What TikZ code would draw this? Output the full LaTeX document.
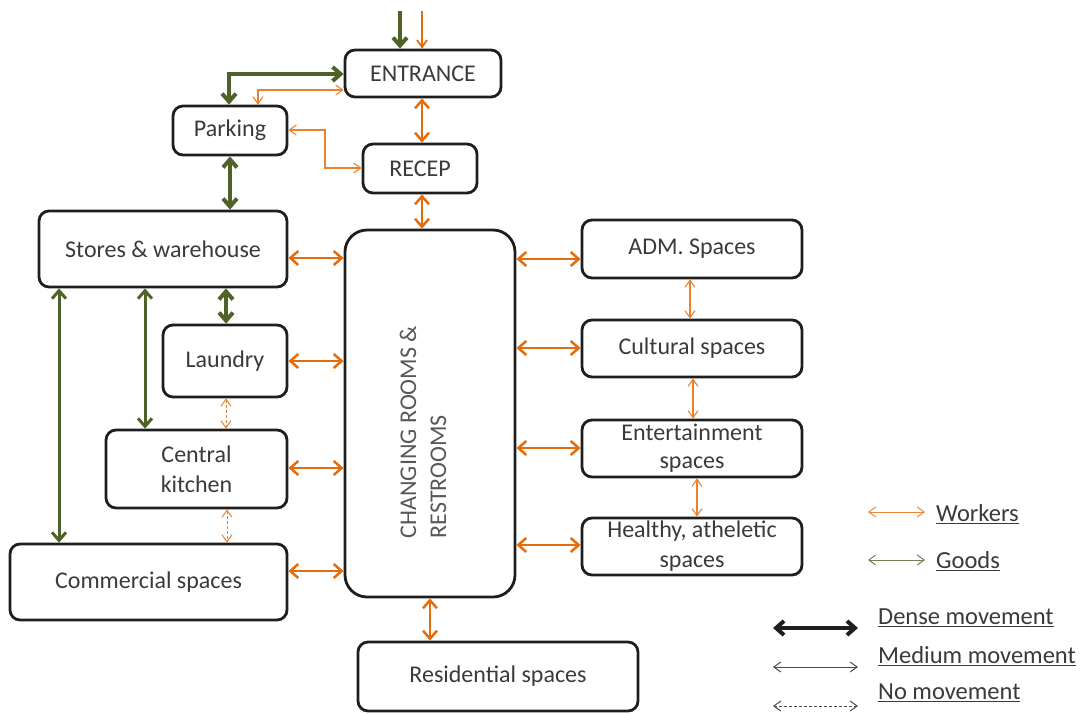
\documentclass[tikz,border=0pt]{standalone}
\usepackage{fontspec}
\setmainfont{Carlito}
\usetikzlibrary{arrows.meta}
\definecolor{org}{HTML}{E46C0A}
\definecolor{grn}{HTML}{4F6228}
\definecolor{txt}{HTML}{3A3A3A}
\definecolor{bord}{HTML}{1E1E1E}
\begin{document}
\begin{tikzpicture}[x=1pt,y=-1pt,
  box/.style={draw=bord,line width=2.8pt,rounded corners=10pt,inner sep=0pt,align=center,text=txt,font=\fontsize{24}{28}\selectfont},
  tipb/.tip={Straight Barb[length=8pt,width=14pt]},
  tipt/.tip={Straight Barb[length=7pt,width=10pt]},
  gthick/.style={draw=grn,line width=4pt,tipb-tipb},
  gmed/.style={draw=grn,line width=3pt,tipb-tipb},
  omed/.style={draw=org,line width=2.5pt,tipb-tipb},
  othin/.style={draw=org!85,line width=1.1pt,tipt-tipt},
  odash/.style={draw=org!85,line width=1pt,dashed,dash pattern=on 3pt off 2pt,tipt-tipt},
  legtxt/.style={text=txt,font=\fontsize{24.5}{26}\selectfont,anchor=west,inner sep=0pt}]
\useasboundingbox (0,0) rectangle (1085,713);
% boxes
\node[box,minimum width=156pt,minimum height=47pt] (ent) at (423,73.5) {ENTRANCE};
\node[box,minimum width=114pt,minimum height=49pt] (park) at (230,130.5) {Parking};
\node[box,minimum width=114pt,minimum height=49pt] (rec) at (420,168.5) {RECEP};
\node[box,minimum width=248pt,minimum height=76pt] (sto) at (163,249) {Stores \& warehouse};
\node[box,minimum width=124pt,minimum height=72pt] (lau) at (225,361) {Laundry};
\node[box,minimum width=181pt,minimum height=78pt,font=\fontsize{24}{30}\selectfont] (kit) at (196.5,469) {Central\\kitchen};
\node[box,minimum width=277pt,minimum height=76pt] (com) at (148.5,582) {Commercial spaces};
\node[box,minimum width=170pt,minimum height=367pt,rounded corners=22pt] (chg) at (430,413.5) {};
\node[rotate=90,align=left,text=txt!85,font=\fontsize{24}{30}\selectfont,inner sep=0pt] (chgt) at (423,432) {CHANGING ROOMS \&\\RESTROOMS};
\node[box,minimum width=220pt,minimum height=58pt] (adm) at (692,249) {ADM. Spaces};
\node[box,minimum width=220pt,minimum height=57pt] (cul) at (692,348.5) {Cultural spaces};
\node[box,minimum width=220pt,minimum height=57pt] (entm) at (692,448.5) {Entertainment\\spaces};
\node[box,minimum width=220pt,minimum height=57pt,font=\fontsize{24}{30}\selectfont] (hea) at (692,546.5) {Healthy, atheletic\\spaces};
\node[box,minimum width=280pt,minimum height=69pt] (res) at (498,676.5) {Residential spaces};
% top incoming
\coordinate (g0) at (400,11);
\coordinate (o0) at (422,11);
\draw[draw=grn,line width=4pt,-tipb] (g0) -- (g0 |- ent.north);
\draw[draw=org,line width=1.8pt,-tipt] (o0) -- (o0 |- ent.north);
% entrance - parking
\draw[gthick] (ent.west |- 0,74) -| (park.north -| 229,0);
\draw[othin] (ent.west |- 0,90) -| (park.north -| 258,0);
\draw[othin] (park.east |- 0,130) -| (325,168) -- (rec.west |- 0,168);
\draw[omed] (ent.south -| 422,0) -- (rec.north -| 422,0);
\draw[gthick] (park.south) -- (sto.north -| park.south);
\draw[omed] (rec.south -| 422,0) -- (chg.north -| 422,0);
% left side
\draw[omed] (sto.east |- 0,258) -- (chg.west |- 0,258);
\draw[gthick] (sto.south -| 226,0) -- (lau.north -| 226,0);
\draw[gmed] (sto.south -| 145,0) -- (kit.north -| 145,0);
\draw[gmed] (sto.south -| 59,0) -- (com.north -| 59,0);
\draw[odash] (lau.south -| 226,0) -- (kit.north -| 226,0);
\draw[odash] (kit.south -| 227,0) -- (com.north -| 227,0);
\draw[omed] (lau.east |- 0,361) -- (chg.west |- 0,361);
\draw[omed] (kit.east |- 0,468) -- (chg.west |- 0,468);
\draw[omed] (com.east |- 0,571) -- (chg.west |- 0,571);
% right side
\draw[omed] (chg.east |- 0,259) -- (adm.west |- 0,259);
\draw[omed] (chg.east |- 0,348) -- (cul.west |- 0,348);
\draw[omed] (chg.east |- 0,448) -- (entm.west |- 0,448);
\draw[omed] (chg.east |- 0,545) -- (hea.west |- 0,545);
\draw[othin] (adm.south -| 690,0) -- (cul.north -| 690,0);
\draw[othin] (cul.south -| 693,0) -- (entm.north -| 693,0);
\draw[othin] (entm.south -| 697,0) -- (hea.north -| 697,0);
\draw[omed] (chg.south -| 430,0) -- (res.north -| 430,0);
% legend
\coordinate (lw1) at (868,512); \coordinate (lw2) at (925,512);
\coordinate (lg1) at (868,560); \coordinate (lg2) at (925,560);
\coordinate (ld1) at (773,628); \coordinate (ld2) at (858,628);
\coordinate (lm1) at (773,667); \coordinate (lm2) at (858,667);
\coordinate (ln1) at (773,706); \coordinate (ln2) at (858,706);
\draw[draw=org!80,line width=1pt,tipt-tipt] (lw1) -- (lw2);
\draw[draw=grn!80,line width=1pt,tipt-tipt] (lg1) -- (lg2);
\draw[draw=bord,line width=4pt,tipb-tipb] (ld1) -- (ld2);
\draw[draw=bord!80,line width=1pt,tipt-tipt] (lm1) -- (lm2);
\draw[draw=bord!80,line width=1pt,dashed,dash pattern=on 3pt off 2pt,tipt-tipt] (ln1) -- (ln2);
\node[legtxt] (lwt) at (936,514) {\underline{Workers}};
\node[legtxt] (lgt) at (936,561) {\underline{Goods}};
\node[legtxt] (ldt) at (878,618) {\underline{Dense movement}};
\node[legtxt] (lmt) at (878,656) {\underline{Medium movement}};
\node[legtxt] (lnt) at (878,693) {\underline{No movement}};
\end{tikzpicture}
\end{document}
